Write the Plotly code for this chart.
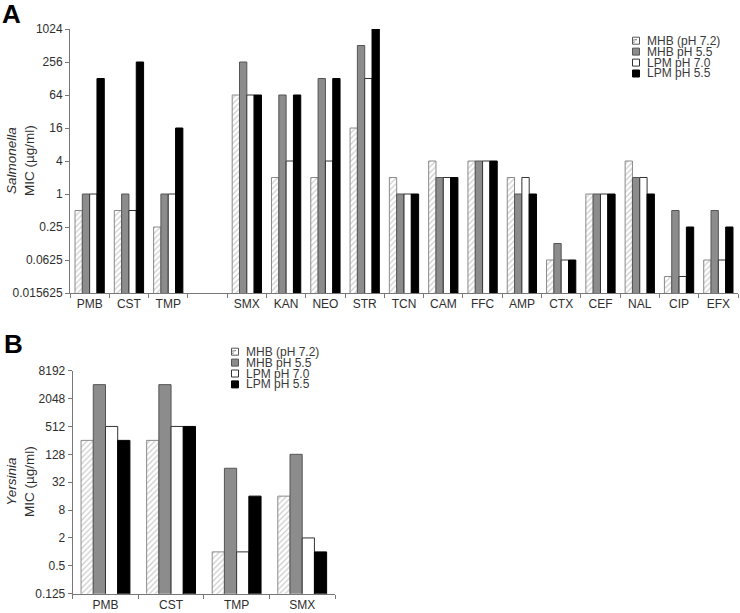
import math
import plotly.graph_objects as go

# ---------------- data ----------------
series_names = ["MHB (pH 7.2)", "MHB pH 5.5", "LPM pH 7.0", "LPM pH 5.5"]

categories_a = ["PMB", "CST", "TMP", " ", "SMX", "KAN", "NEO", "STR", "TCN",
                "CAM", "FFC", "AMP", "CTX", "CEF", "NAL", "CIP", "EFX"]
mhb72_a = [0.5, 0.5, 0.25, None, 64, 2, 2, 16, 2, 4, 4, 2, 0.0625, 1, 4, 0.03125, 0.0625]
mhb55_a = [1, 1, 1, None, 256, 64, 128, 512, 1, 2, 4, 1, 0.125, 1, 2, 0.5, 0.5]
lpm70_a = [1, 0.5, 1, None, 64, 4, 4, 128, 1, 2, 4, 2, 0.0625, 1, 2, 0.03125, 0.0625]
lpm55_a = [128, 256, 16, None, 64, 64, 128, 1024, 1, 2, 4, 1, 0.0625, 1, 1, 0.25, 0.25]

categories_b = ["PMB", "CST", "TMP", "SMX"]
mhb72_b = [256, 256, 1, 16]
mhb55_b = [4096, 4096, 64, 128]
lpm70_b = [512, 512, 1, 2]
lpm55_b = [256, 512, 16, 1]

yticks_a = [0.015625, 0.0625, 0.25, 1, 4, 16, 64, 256, 1024]
yticktext_a = ["0.015625", "0.0625", "0.25", "1", "4", "16", "64", "256", "1024"]
yticks_b = [0.125, 0.5, 2, 8, 32, 128, 512, 2048, 8192]
yticktext_b = ["0.125", "0.5", "2", "8", "32", "128", "512", "2048", "8192"]

# ---------------- layout helpers ----------------
W, H = 740, 613
def fx(px):
    return px / W
def fy(py):
    return 1 - py / H

FONT = "Liberation Sans, Arial, Helvetica, sans-serif"
TXT = "#2e2e2e"

styles = [
    dict(color="white", line=dict(color="#8a8a8a", width=1),
         pattern=dict(shape="/", fgcolor="#9a9a9a", bgcolor="white", size=4, solidity=0.3)),
    dict(color="#8c8c8c", line=dict(color="#555555", width=1)),
    dict(color="white", line=dict(color="#333333", width=1)),
    dict(color="black", line=dict(color="black", width=1)),
]

fig = go.Figure()
for name, vals, st in zip(series_names, [mhb72_a, mhb55_a, lpm70_a, lpm55_a], styles):
    fig.add_trace(go.Bar(x=categories_a, y=vals, name=name, marker=st,
                         xaxis="x", yaxis="y", showlegend=False))
for name, vals, st in zip(series_names, [mhb72_b, mhb55_b, lpm70_b, lpm55_b], styles):
    fig.add_trace(go.Bar(x=categories_b, y=vals, name=name, marker=st,
                         xaxis="x2", yaxis="y2", showlegend=False))

axis_common = dict(showline=True, linecolor="#777777", linewidth=1, showgrid=False,
                   zeroline=False, ticks="outside", ticklen=4, tickcolor="#777777",
                   automargin=False,
                   tickfont=dict(family=FONT, size=12, color=TXT))

fig.update_layout(
    width=W, height=H, autosize=False, margin=dict(l=0, r=0, t=0, b=0, pad=0, autoexpand=False),
    paper_bgcolor="white", plot_bgcolor="white",
    barmode="group", bargap=0.255, bargroupgap=0,
    font=dict(family=FONT, color=TXT),
    xaxis=dict(domain=[fx(70), fx(738)], anchor="y", type="category",
               categoryorder="array", categoryarray=categories_a,
               range=[-0.5, len(categories_a) - 0.5], tickson="boundaries", **axis_common),
    yaxis=dict(domain=[fy(293), fy(29)], anchor="x", type="log",
               range=[math.log10(yticks_a[0]), math.log10(yticks_a[-1])],
               tickvals=yticks_a, ticktext=yticktext_a, **axis_common),
    xaxis2=dict(domain=[fx(72.7), fx(335)], anchor="y2", type="category",
                categoryorder="array", categoryarray=categories_b,
                range=[-0.5, len(categories_b) - 0.5], tickson="boundaries", **axis_common),
    yaxis2=dict(domain=[fy(593.7), fy(370.7)], anchor="x2", type="log",
                range=[math.log10(yticks_b[0]), math.log10(yticks_b[-1])],
                tickvals=yticks_b, ticktext=yticktext_b, **axis_common),
)

annotations = [
    dict(text="<b>A</b>", x=fx(0), y=fy(14), xanchor="left", yanchor="middle",
         font=dict(size=26, color="black", family=FONT)),
    dict(text="<b>B</b>", x=fx(2), y=fy(344), xanchor="left", yanchor="middle",
         font=dict(size=26, color="black", family=FONT)),
    dict(text="<i>Salmonella</i><br>MIC (µg/ml)", x=fx(20), y=fy(161), textangle=-90,
         xanchor="center", yanchor="middle", font=dict(size=13.5, color=TXT, family=FONT)),
    dict(text="<i>Yersinia</i><br>MIC (µg/ml)", x=fx(20), y=fy(482), textangle=-90,
         xanchor="center", yanchor="middle", font=dict(size=13.5, color=TXT, family=FONT)),
]
shapes = []

def add_legend(x0, y_rows, text_x):
    for i, (name, st) in enumerate(zip(series_names, styles)):
        yc = y_rows[i]
        s = 7
        fill = st["color"]
        shapes.append(dict(type="rect", xref="paper", yref="paper",
                           x0=fx(x0), x1=fx(x0 + s), y0=fy(yc + s / 2), y1=fy(yc - s / 2),
                           fillcolor=fill,
                           line=dict(color=st["line"]["color"] if i != 0 else "#555555", width=1)))
        if i == 0:
            for k in (2.3, 4.6):
                shapes.append(dict(type="line", xref="paper", yref="paper",
                                   x0=fx(x0 + 0.5), y0=fy(yc + s / 2 - k + 0.5),
                                   x1=fx(x0 + k), y1=fy(yc - s / 2 + (s - k)),
                                   line=dict(color="#777777", width=1)))
        annotations.append(dict(text=name, x=fx(text_x), y=fy(yc), xanchor="left",
                                yanchor="middle", showarrow=False,
                                font=dict(size=12, color="#3a3a3a", family=FONT)))

add_legend(632.5, [40.7, 51.6, 62.6, 73.5], 645)
add_legend(231.5, [351.7, 362.6, 373.5, 384.4], 244)

for a in annotations:
    a.setdefault("showarrow", False)
    a["xref"] = "paper"
    a["yref"] = "paper"

fig.update_layout(annotations=annotations, shapes=shapes)

post = ("document.documentElement.style.margin='0';document.documentElement.style.padding='0';"
        "document.documentElement.style.overflow='hidden';"
        "document.body.style.margin='0';document.body.style.padding='0';"
        "document.body.style.overflow='hidden';"
        "var gd=document.getElementById('{plot_id}');"
        "Plotly.relayout(gd,{width:740,height:613});")
fig.write_html("out.html", post_script=post, config={"responsive": False, "displayModeBar": False})
